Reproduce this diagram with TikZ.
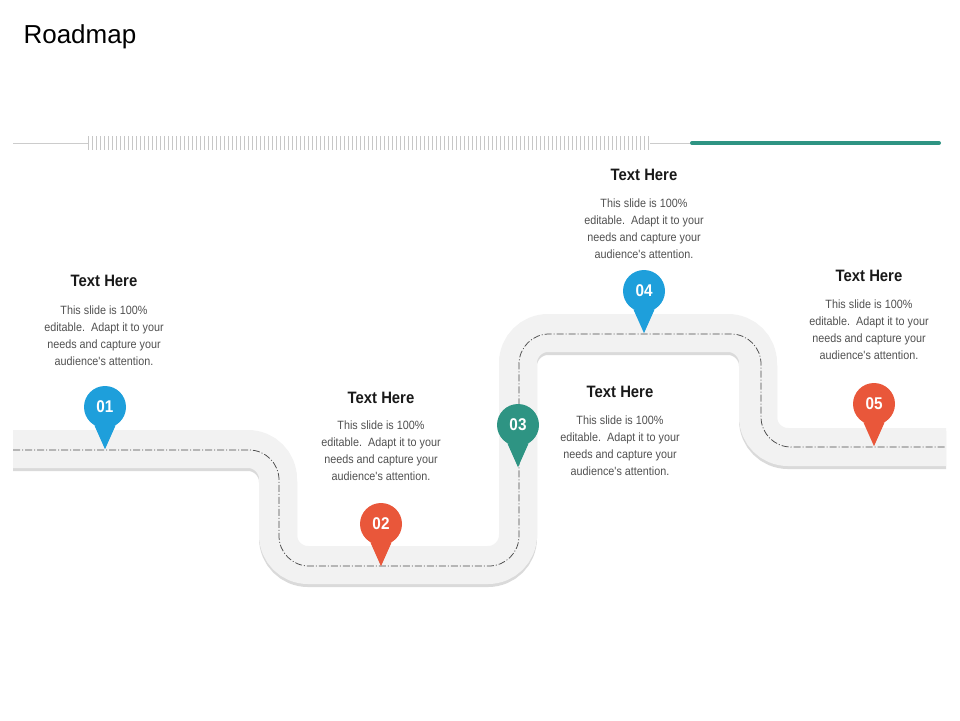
\documentclass[tikz,border=0pt]{standalone}
\usepackage{fontspec}
\setmainfont{Liberation Sans}
\newfontfamily\narrowfont[FakeStretch=0.9]{Liberation Sans}
\usepackage{tikz}
\definecolor{roadgray}{HTML}{F2F2F2}
\definecolor{roadshade}{HTML}{DADADA}
\definecolor{dashgray}{HTML}{4A4A4A}
\definecolor{pinblue}{HTML}{1E9FDB}
\definecolor{pinred}{HTML}{E9573A}
\definecolor{pinteal}{HTML}{2E9483}
\definecolor{bodygray}{HTML}{505050}

\begin{document}
\begin{tikzpicture}[x=1pt,y=-1pt,line cap=butt,
    road/.style={line width=38pt,rounded corners=30pt},
    pin/.style={circle,inner sep=0pt,minimum size=42pt,text=white,font=\narrowfont\fontsize{17}{17}\selectfont\bfseries},
    heading/.style={align=center,font=\narrowfont\fontsize{16.5}{18}\selectfont\bfseries,text=black!90},
    body/.style={align=center,font=\narrowfont\fontsize{12}{17}\selectfont,text=bodygray},
    tick/.style={line width=0.6pt,color=black!22}]
            \useasboundingbox (0,0) rectangle (960,720);
            \node[anchor=west,font=\fontsize{26}{30}\selectfont] (title) at (20,37) {Roadmap};
            % top rule
            \draw[line width=0.8pt,black!20] (13,143) -- (88,143);
            \foreach \x in {88,92,...,648}
                \draw[tick] (\x,136) -- (\x,150);
            \draw[line width=0.8pt,black!20] (650,143) -- (690,143);
            \draw[line width=4pt,pinteal,line cap=round] (692,143) -- (939,143);
            % road
            \draw[road,roadshade,yshift=-3pt] (13,449) -- (278,449) -- (278,565) -- (518,565) -- (518,333) -- (758,333) -- (758,447) -- (946,447);
            \draw[road,roadgray] (13,449) -- (278,449) -- (278,565) -- (518,565) -- (518,333) -- (758,333) -- (758,447) -- (946,447);
            \draw[dashgray,line width=0.75pt,rounded corners=30pt,dash pattern=on 7pt off 2pt on 1pt off 2pt] (13,450) -- (279,450) -- (279,566) -- (519,566) -- (519,334) -- (761,334) -- (761,447) -- (946,447);
            % pins
            \node[pin,fill=pinblue] (pin1) at (105,407) {01};
            \fill[pinblue] (pin1.-120) -- (pin1.-60) -- ([yshift=-21pt]pin1.south) -- cycle;
            \node[pin,fill=pinred] (pin2) at (381,524) {02};
            \fill[pinred] (pin2.-120) -- (pin2.-60) -- ([yshift=-21pt]pin2.south) -- cycle;
            \node[pin,fill=pinteal] (pin3) at (518,425) {03};
            \fill[pinteal] (pin3.-120) -- (pin3.-60) -- ([yshift=-21pt]pin3.south) -- cycle;
            \node[pin,fill=pinblue] (pin4) at (644,291) {04};
            \fill[pinblue] (pin4.-120) -- (pin4.-60) -- ([yshift=-21pt]pin4.south) -- cycle;
            \node[pin,fill=pinred] (pin5) at (874,404) {05};
            \fill[pinred] (pin5.-120) -- (pin5.-60) -- ([yshift=-21pt]pin5.south) -- cycle;
            % texts
            \node[heading] (head1) at (104,281) {Text Here};
            \node[body] (body1) at (104,336) {This slide is 100\%\\editable.\ \ Adapt it to your\\needs and capture your\\audience's attention.};
            \node[heading] (head2) at (381,398) {Text Here};
            \node[body] (body2) at (381,451) {This slide is 100\%\\editable.\ \ Adapt it to your\\needs and capture your\\audience's attention.};
            \node[heading] (head3) at (620,392) {Text Here};
            \node[body] (body3) at (620,446) {This slide is 100\%\\editable.\ \ Adapt it to your\\needs and capture your\\audience's attention.};
            \node[heading] (head4) at (644,175) {Text Here};
            \node[body] (body4) at (644,229) {This slide is 100\%\\editable.\ \ Adapt it to your\\needs and capture your\\audience's attention.};
            \node[heading] (head5) at (869,276) {Text Here};
            \node[body] (body5) at (869,330) {This slide is 100\%\\editable.\ \ Adapt it to your\\needs and capture your\\audience's attention.};
\end{tikzpicture}
\end{document}
